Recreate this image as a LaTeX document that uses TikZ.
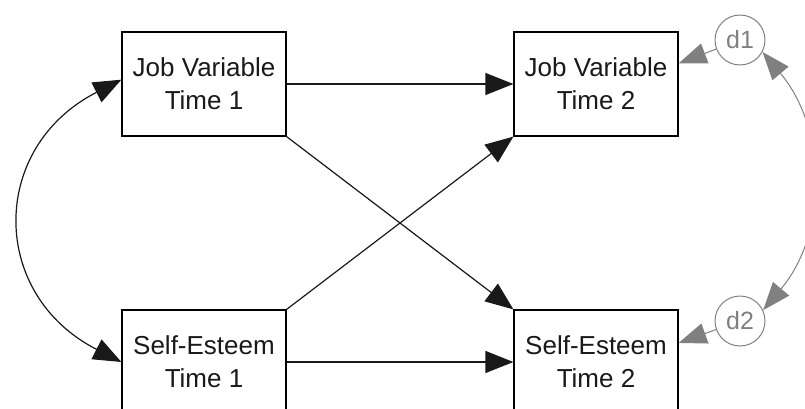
\documentclass[tikz,border=0pt]{standalone}
\usepackage{fontspec}
\setmainfont{Liberation Sans}
\usetikzlibrary{arrows.meta}
\definecolor{dgray}{gray}{0.5}
\tikzset{
  var/.style={draw=black, line width=1.2pt, minimum width=164pt, minimum height=104pt,
    inner sep=0pt, align=center, font=\fontsize{26}{33}\selectfont, text=black!90},
  err/.style={draw=dgray, line width=1pt, circle, minimum size=50pt, inner sep=0pt,
    text=dgray, font=\fontsize{25}{28}\selectfont},
  path/.style={line width=1.2pt, draw=black!90, -{Triangle[length=28pt,width=22pt]}},
  cov/.style={line width=1.2pt, draw=black!90, {Triangle[length=28pt,width=22pt]}-{Triangle[length=28pt,width=22pt]}},
  gpath/.style={line width=1pt, draw=dgray, -{Triangle[length=28pt,width=21pt,fill=dgray]}},
  gcov/.style={line width=1pt, draw=dgray, {Triangle[length=28pt,width=21pt,fill=dgray]}-{Triangle[length=28pt,width=21pt,fill=dgray]}},
}
\begin{document}
\begin{tikzpicture}[x=1pt,y=1pt]
\clip (0,0) rectangle (805,408);
\useasboundingbox (0,0) rectangle (805,408);
\node[var] (jv1) at (204,324) {Job Variable\\Time 1};
\node[var] (jv2) at (596,324) {Job Variable\\Time 2};
\node[var] (se1) at (204,46) {Self-Esteem\\Time 1};
\node[var] (se2) at (596,46) {Self-Esteem\\Time 2};
\node[err] (d1) at (740,368) {d1};
\node[err] (d2) at (740,87) {d2};
\draw[path] (jv1.east) -- (jv2.west);
\draw[path] (se1.east) -- (se2.west);
\draw[path] (jv1.south east) -- (se2.north west);
\draw[path] (se1.north east) -- (jv2.south west);
\draw[cov] (jv1.177) to[out=207,in=153,looseness=1.35] (se1.west);
\draw[gpath] (d1) -- (jv2.14.4);
\draw[gpath] (d2) -- (se2.13.5);
\draw[gcov] (d1.-28) to[out=-50,in=50] (d2.25);
\end{tikzpicture}
\end{document}
